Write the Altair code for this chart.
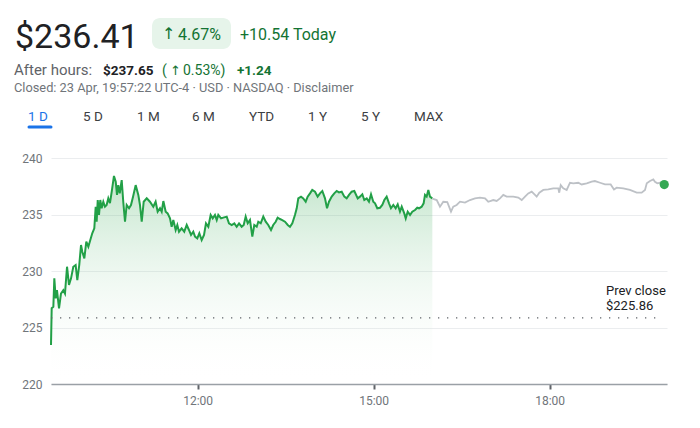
import altair as alt
import pandas as pd

# ---- data (minutes after the 9:30 open, price in USD) ----
reg_min = [0, 0.7, 2.4, 3.4, 4.8, 6.1, 8.2, 10.2, 12.6, 14.3, 16.4, 18.4, 20.5, 22.8, 25.2, 26.9, 28.9,
           30.7, 32.0, 34.1, 36.1, 38.2, 40.2, 42.2, 44.3, 45.7, 46.7, 47.8, 49.1, 50.4, 51.8, 53.5,
           55.2, 56.9, 58.6, 60.3, 62.1, 64.4, 66.2, 67.5, 68.8, 70.3, 72.3, 73.9, 75.7, 77.4, 79.8,
           81.8, 83.9, 86.6, 89.3, 91.0, 92.8, 94.8, 97.9, 101.2, 104.6, 107.0, 109.1, 111.5, 113.2,
           114.9, 117.3, 119.3, 121.7, 123.4, 125.1, 127.5, 129.2, 130.9, 133.6, 136.3, 138.8, 141.1,
           143.2, 145.5, 147.3, 149.6, 151.7, 154.1, 156.5, 158.5, 160.9, 163.3, 165.4, 167.7, 169.5,
           171.1, 173.9, 176.2, 179.7, 182.0, 184.8, 187.5, 189.9, 192.3, 195.0, 197.1, 199.1, 201.2,
           203.5, 205.9, 207.9, 210.4, 212.0, 214.5, 217.1, 219.6, 222.2, 225.0, 227.3, 229.8, 231.8,
           234.2, 236.5, 239.3, 242.1, 244.4, 246.8, 249.5, 251.3, 252.9, 255.7, 258.0, 260.5, 262.5,
           264.9, 267.2, 270.0, 272.7, 275.1, 277.5, 280.2, 282.3, 284.3, 287.1, 289.7, 292.2, 294.5,
           297.3, 300.0, 302.4, 304.8, 307.5, 310.2, 313.7, 316.0, 318.4, 320.4, 322.9, 325.2, 327.3,
           329.6, 331.4, 333.7, 336.5, 338.8, 340.9, 343.3, 345.7, 347.7, 350.1, 352.5, 354.6, 356.9,
           358.7, 361.3, 362.8, 364.8, 367.2, 369.5, 372.3, 374.6, 376.4, 379.1, 381.1, 382.5, 384.2,
           385.9, 387.6, 390.0]
reg_price = [223.45, 226.7, 226.84, 229.35, 227.58, 228.3, 226.7, 228.0, 228.3, 228.0, 230.38, 228.76,
             229.35, 230.38, 230.53, 229.2, 230.53, 232.3, 231.7, 231.12, 232.6, 232.15, 232.74, 233.34,
             233.78, 235.69, 234.36, 236.28, 234.96, 236.28, 235.55, 236.13, 235.69, 235.84, 236.43,
             236.0, 237.02, 238.41, 237.9, 236.73, 237.6, 236.87, 238.05, 236.13, 234.36, 235.84, 235.55,
             235.84, 236.58, 237.6, 236.73, 235.84, 234.36, 236.13, 236.43, 236.13, 235.69, 236.13,
             235.25, 235.55, 235.25, 236.19, 235.25, 235.1, 234.66, 233.92, 234.51, 233.63, 234.07,
             233.48, 233.78, 233.48, 234.07, 233.63, 233.19, 233.48, 233.04, 232.89, 233.34, 232.74,
             233.19, 234.22, 233.92, 234.96, 234.66, 234.96, 234.51, 234.96, 234.66, 234.72, 234.81,
             234.22, 234.07, 234.22, 233.92, 234.22, 233.92, 234.07, 234.81, 234.22, 234.51, 233.04,
             234.07, 233.92, 234.36, 234.22, 234.81, 234.36, 234.07, 233.63, 234.07, 234.36, 234.72,
             234.6, 234.51, 234.36, 234.07, 233.92, 234.22, 234.96, 235.55, 236.43, 236.58, 236.43,
             236.13, 236.58, 236.87, 237.17, 237.02, 236.58, 236.87, 237.08, 236.43, 235.55, 236.13,
             236.58, 236.87, 237.08, 236.96, 237.02, 236.58, 236.43, 236.73, 237.02, 237.08, 236.43,
             236.58, 236.79, 236.28, 236.43, 236.13, 236.79, 236.13, 235.99, 235.55, 235.6, 235.84,
             236.28, 236.58, 235.99, 235.55, 235.84, 235.55, 235.9, 235.25, 235.69, 235.1, 234.66,
             235.25, 234.96, 235.25, 235.4, 235.6, 235.55, 235.69, 235.99, 236.73, 236.58, 237.17,
             236.58, 236.41]
ah_min = [390.0, 394.5, 397.8, 401.2, 405.3, 409.1, 411.4, 414.9, 418.3, 423.4, 428.5, 433.6, 438.7,
          443.9, 447.2, 452.3, 455.8, 459.2, 462.6, 466.0, 472.8, 477.9, 481.4, 484.8, 488.1, 491.6,
          495.0, 496.7, 499.4, 503.5, 508.6, 513.7, 518.8, 519.8, 521.3, 523.9, 527.4, 530.8, 534.2,
          539.3, 542.7, 547.9, 553.0, 556.3, 561.5, 566.6, 572.4, 575.8, 578.5, 585.3, 592.1, 599.0,
          604.1, 607.5, 609.3, 612.6, 616.0, 617.7, 620.1, 622.8, 627.2]
ah_price = [236.41, 236.28, 235.69, 236.13, 236.1, 235.25, 235.69, 235.84, 236.13, 236.05, 236.28,
            236.43, 236.5, 236.43, 236.13, 236.28, 236.2, 236.43, 236.73, 236.58, 236.58, 236.5,
            236.28, 236.58, 236.87, 237.02, 236.73, 236.58, 236.93, 237.17, 237.22, 237.32, 237.32,
            236.93, 237.6, 237.32, 237.17, 237.81, 237.76, 237.81, 237.66, 237.76, 237.9, 237.96,
            237.81, 237.66, 237.66, 237.22, 237.37, 237.32, 237.17, 236.93, 236.93, 237.17, 237.76,
            237.96, 238.1, 237.9, 237.76, 237.81, 237.65]
prev_close = [225.86]
y_ticks = [220, 225, 230, 235, 240]
x_ticks = [150, 330, 510]          # 12:00, 15:00, 18:00
x_domain = [0, 630]                # 9:30 .. 20:00

price_text = "$236.41"
pct_text = "↑4.67%"
change_text = "+10.54 Today"
ah_label = "After hours:"
ah_price_text = "$237.65"
ah_pct_text = "(↑0.53%)"
ah_change_text = "+1.24"
closed_text = "Closed: 23 Apr, 19:57:22 UTC-4 · USD · NASDAQ · Disclaimer"
tabs = ["1 D", "5 D", "1 M", "6 M", "YTD", "1 Y", "5 Y", "MAX"]
prev_lines = ["Prev close", "$225.86"]

# ---- layout constants ----
FONT = "Roboto"
ARROW_FONT = "DejaVu Sans"
GREEN_TXT = "#137333"
tab_x = [-23, 32, 86, 141, 198, 257, 310, 363]

reg = pd.DataFrame({"m": reg_min, "p": reg_price})
ah = pd.DataFrame({"m": ah_min, "p": ah_price})
last = ah.tail(1)
prev = pd.DataFrame({"p": prev_close})

X = alt.X("m:Q", scale=alt.Scale(domain=x_domain, nice=False, zero=False),
          axis=alt.Axis(values=x_ticks, labelExpr="floor(datum.value/60 + 9.5) + ':00'",
                        grid=False, domainColor="#9aa0a6", domainWidth=1.5,
                        tickColor="#5f6368", tickSize=5, tickWidth=2, labelPadding=6, title=None))
Y = alt.Y("p:Q", scale=alt.Scale(domain=[220, 240], nice=False, zero=False),
          axis=alt.Axis(values=y_ticks, grid=True, gridColor="#ebedef", domain=False, ticks=False,
                        labelPadding=9, labelFlush=False, title=None))

grad = alt.Gradient(gradient="linear",
                    stops=[alt.GradientStop(color="rgba(52,168,83,0.30)", offset=0),
                           alt.GradientStop(color="rgba(255,255,255,0)", offset=1)],
                    x1=1, x2=1, y1=0, y2=1)

area = alt.Chart(reg).mark_area(color=grad).encode(x=X, y=Y, y2=alt.datum(220))
line = alt.Chart(reg).mark_line(color="#22a047", strokeWidth=2).encode(x=X, y=Y)
ah_line = alt.Chart(ah).mark_line(color="#bdc1c6", strokeWidth=1.8).encode(x=X, y=Y)
dot = alt.Chart(last).mark_circle(size=85, color="#34a853", opacity=1).encode(x=X, y=Y)
prev_rule = alt.Chart(prev).mark_rule(color="#5f6368", strokeDash=[1.3, 7.7], strokeWidth=1.3).encode(
    y=Y, x=alt.value(0), x2=alt.value(612))


def label(s, x, y, size, color, weight="normal", font=FONT):
    return alt.Chart(pd.DataFrame({"t": [s]})).mark_text(
        align="left", baseline="alphabetic", font=font, fontSize=size, color=color, fontWeight=weight
    ).encode(x=alt.value(x), y=alt.value(y), text="t:N")


box = alt.Chart(pd.DataFrame({"a": [0]})).mark_rect(cornerRadius=8, color="#e6f4ea").encode(
    x=alt.value(101), x2=alt.value(180), y=alt.value(-140), y2=alt.value(-109))
underline = alt.Chart(pd.DataFrame({"a": [0]})).mark_rule(
    color="#1a73e8", strokeWidth=3, strokeCap="round").encode(
    x=alt.value(-22), x2=alt.value(0), y=alt.value(-31))

texts = [
    label(price_text, -36, -110, 34, "#202124"),
    label(pct_text[0], 111, -119, 16, GREEN_TXT, font=ARROW_FONT),
    label(pct_text[1:], 127, -118.5, 16, GREEN_TXT),
    label(change_text, 189, -118.5, 16, GREEN_TXT),
    label(ah_label, -37, -83, 15, "#5f6368"),
    label(ah_price_text, 52, -83, 13.5, "#202124", "bold"),
    label(ah_pct_text[0], 111, -83, 14, GREEN_TXT),
    label(ah_pct_text[1], 119, -83.5, 13, GREEN_TXT, font=ARROW_FONT),
    label(ah_pct_text[2:], 132, -83, 14, GREEN_TXT),
    label(ah_change_text, 186, -83, 13.5, GREEN_TXT, "bold"),
    label(closed_text, -37, -66, 12.8, "#70757a"),
    label(prev_lines[0], 555, 137, 13, "#202124"),
    label(prev_lines[1], 555, 152, 13, "#202124"),
]
for i, t in enumerate(tabs):
    texts.append(label(t, tab_x[i], -37, 13.5, "#1a73e8" if i == 0 else "#3c4043"))

chart = alt.layer(area, line, ah_line, prev_rule, dot, box, underline, *texts).properties(
    width=616, height=226,
    autosize=alt.AutoSizeParams(type="none"),
    padding={"left": 43, "top": 150, "right": 20, "bottom": 30},
    background="white",
).configure_view(stroke=None).configure_axis(
    labelFont=FONT, labelColor="#70757a", labelFontSize=12)

chart.save("out.html", embed_options={"renderer": "svg", "actions": False})
